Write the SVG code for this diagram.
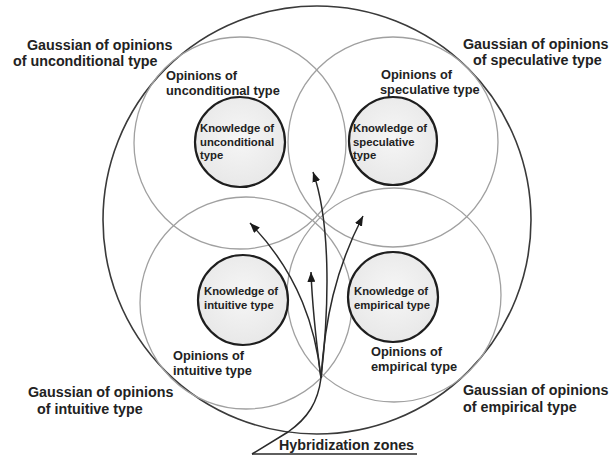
<svg xmlns="http://www.w3.org/2000/svg" width="612" height="457" viewBox="0 0 612 457">
<defs>
<radialGradient id="kfill" cx="50%" cy="45%" r="55%">
<stop offset="0" stop-color="#f6f6f6"/>
<stop offset="1" stop-color="#e8e8e8"/>
</radialGradient>
<marker id="ah" viewBox="0 0 10 8" refX="10" refY="4" markerWidth="10" markerHeight="8" markerUnits="userSpaceOnUse" orient="auto">
<path d="M0,0 L10,4 L0,8 z" fill="#1a1a1a"/>
</marker>
</defs>
<style>
text{font-family:"Liberation Sans",Arial,sans-serif;font-weight:bold;fill:#222}
.g{font-size:14.3px}
.o{font-size:12.8px}
.k{font-size:11.3px}
.outer{fill:none;stroke:#3a3a3a;stroke-width:1.6}
.op{fill:none;stroke:#a0a0a0;stroke-width:1.3}
.kn{fill:url(#kfill);stroke:#1e1e1e;stroke-width:2.2}
.ar{fill:none;stroke:#2a2a2a;stroke-width:1.5}
</style>
<rect width="612" height="457" fill="#fff"/>
<g id="gaussian">
<circle class="outer" cx="317" cy="220" r="214"/>
<text class="g" x="27" y="50">Gaussian of opinions</text>
<text class="g" x="13" y="66">of unconditional type</text>
<text class="g" x="463" y="49">Gaussian of opinions</text>
<text class="g" x="473" y="65">of speculative type</text>
<text class="g" x="28" y="397">Gaussian of opinions</text>
<text class="g" x="37" y="414">of intuitive type</text>
<text class="g" x="463" y="395">Gaussian of opinions</text>
<text class="g" x="463" y="412">of empirical type</text>
</g>
<g id="opinions-unconditional">
<circle class="op" cx="240" cy="143" r="106"/>
<text class="o" x="166" y="80">Opinions of</text>
<text class="o" x="166" y="95">unconditional type</text>
</g>
<g id="opinions-speculative">
<circle class="op" cx="393" cy="142" r="105"/>
<text class="o" x="381" y="79">Opinions of</text>
<text class="o" x="380" y="94">speculative type</text>
</g>
<g id="opinions-intuitive">
<circle class="op" cx="246" cy="303" r="106"/>
<text class="o" x="173" y="360">Opinions of</text>
<text class="o" x="173" y="375">intuitive type</text>
</g>
<g id="opinions-empirical">
<circle class="op" cx="394" cy="295" r="107"/>
<text class="o" x="371" y="356">Opinions of</text>
<text class="o" x="371" y="371">empirical type</text>
</g>
<g id="knowledge-unconditional">
<circle class="kn" cx="240" cy="142" r="45"/>
<text class="k" x="200" y="132">Knowledge of</text>
<text class="k" x="200" y="146">unconditional</text>
<text class="k" x="200" y="159">type</text>
</g>
<g id="knowledge-speculative">
<circle class="kn" cx="393" cy="141" r="44"/>
<text class="k" x="353" y="132">Knowledge of</text>
<text class="k" x="353" y="146">speculative</text>
<text class="k" x="353" y="159">type</text>
</g>
<g id="knowledge-intuitive">
<circle class="kn" cx="243" cy="300" r="45"/>
<text class="k" x="204" y="295">Knowledge of</text>
<text class="k" x="204" y="309">intuitive type</text>
</g>
<g id="knowledge-empirical">
<circle class="kn" cx="393" cy="297" r="45"/>
<text class="k" x="354" y="295">Knowledge of</text>
<text class="k" x="354" y="309">empirical type</text>
</g>
<g id="hybridization">
<text class="g" x="279" y="450">Hybridization zones</text>
</g>
<g id="connectors">
<path class="ar" d="M252,454 L417,454"/>
<path class="ar" d="M252,454 L288,432 C308,418 318,402 321,378"/>
<path class="ar" marker-end="url(#ah)" d="M321,378 C316,330 300,275 250,223"/>
<path class="ar" marker-end="url(#ah)" d="M321,378 C330,300 330,220 313,172"/>
<path class="ar" marker-end="url(#ah)" d="M321,378 C325,320 335,270 363,216"/>
<path class="ar" marker-end="url(#ah)" d="M321,378 C316,340 312,300 311,272"/>
</g>
</svg>
